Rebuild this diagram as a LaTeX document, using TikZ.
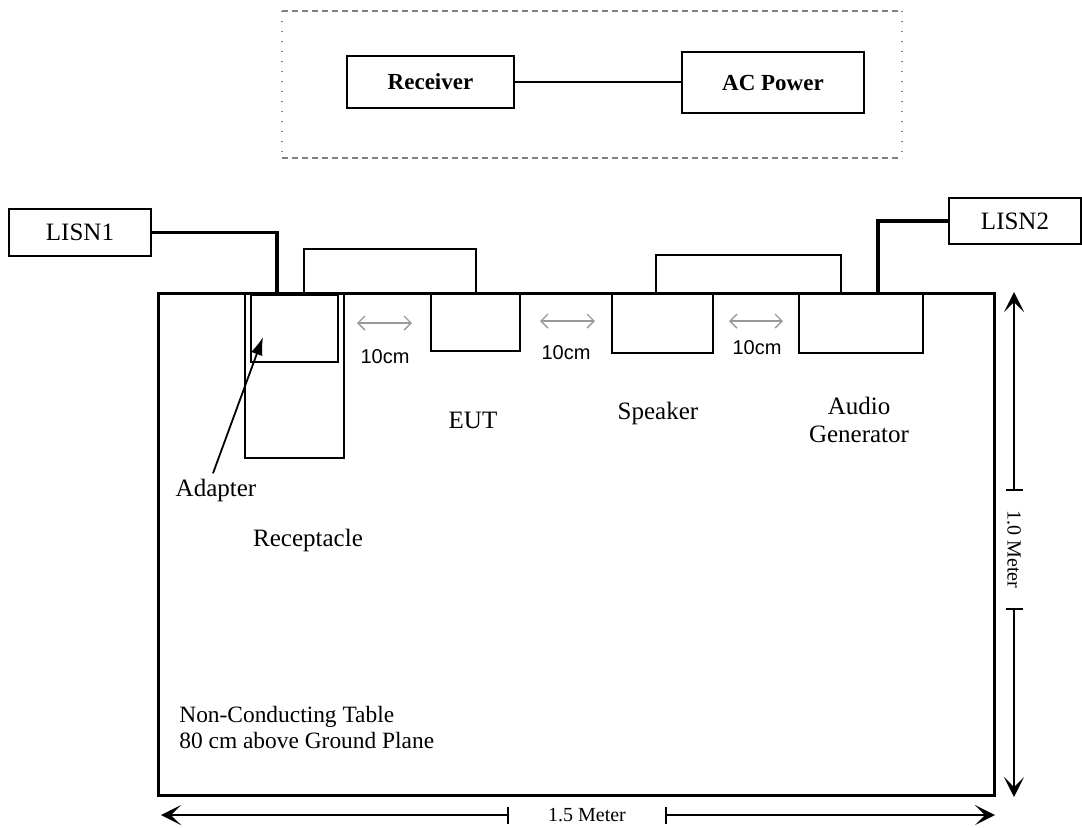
\documentclass[tikz,border=0pt]{standalone}
\usepackage{fontspec}
\setmainfont{Liberation Serif}
\newfontfamily\arialfont{Liberation Sans}
\usetikzlibrary{arrows.meta, positioning, calc}

\begin{document}
\begin{tikzpicture}[x=0.5pt, y=-0.5pt,
		box/.style={draw, line width=1pt, inner sep=0pt, font=\fontsize{12.5}{14}\selectfont},
		boldbox/.style={box, font=\fontsize{11.5}{13}\selectfont\bfseries},
		lbl/.style={inner sep=0pt, align=center, font=\fontsize{12.5}{14}\selectfont},
		gaplbl/.style={inner sep=0pt, font=\arialfont\fontsize{10}{12}\selectfont},
		dimlbl/.style={inner sep=0pt, font=\fontsize{10}{12}\selectfont},
		wire/.style={line width=1pt},
		thickwire/.style={line width=1.8pt},
		gap/.style={gray!80, line width=0.7pt, {Straight Barb[length=3.5pt,width=7pt]}-{Straight Barb[length=3.5pt,width=7pt]}},
		ptr/.style={line width=0.9pt, -{Latex[length=9pt,width=6pt]}},
		dimline/.style={line width=0.8pt, {Bar[width=8.5pt]}-{Stealth[length=10pt,width=10pt,inset=5pt]}},
		frame/.style={gray, line width=0.6pt, dash pattern=on 3pt off 2pt},
		framedot/.style={gray, line width=0.6pt, dash pattern=on 0.6pt off 4.4pt}
	]
	\useasboundingbox (0,0) rectangle (1082,827);

	% Receiver set-up
	\draw[frame] (282,11) -- (902,11) (282,158) -- (902,158);
	\draw[framedot] (282,11) -- (282,158) (902,11) -- (902,158);
	\node[boldbox, minimum width=83.5pt, minimum height=26pt] (rcv) at (430.5,82) {Receiver};
	\node[boldbox, minimum width=91pt, minimum height=30.5pt] (acp) at (773,82.5) {AC Power};
	\draw[wire] (rcv.east) -- (rcv.east -| acp.west);

	% Table
	\node[draw, line width=1.5pt, inner sep=0pt, minimum width=418pt, minimum height=251pt] (table) at (576,544) {};

	% LISNs
	\node[box, minimum width=71pt, minimum height=23.5pt] (lisn1) at (80,232.5) {LISN1};
	\node[box, minimum width=66pt, minimum height=23pt] (lisn2) at (1015,221) {LISN2};

	% Equipment
	\node[box, minimum width=49.5pt, minimum height=82pt] (rcpt) at (294.5,376) {};
	\node[box, minimum width=43.5pt, minimum height=33.5pt] (adapter) at (294.5,328.5) {};
	\node[box, minimum width=44.5pt, minimum height=28.5pt] (eut) at (475.5,322.5) {};
	\node[box, minimum width=50.5pt, minimum height=29.5pt] (spk) at (662.5,323.5) {};
	\node[box, minimum width=62pt, minimum height=29.5pt] (agen) at (861,323.5) {};

	% Labels
	\node[lbl] (eutlbl) at (473,420) {EUT};
	\node[lbl] (spklbl) at (658,413) {Speaker};
	\node[lbl] (agenlbl) at (859,420) {Audio\\Generator};
	\node[lbl] (adlbl) at (216,490) {Adapter};
	\node[lbl] (rcptlbl) at (308,540) {Receptacle};
	\node[lbl, align=left, anchor=west, font=\fontsize{11.7}{13}\selectfont] (note) at (179,727) {Non-Conducting Table\\80 cm above Ground Plane};

	% Cables
	\draw[thickwire] (lisn1.east) -| ([shift={(-17.5,0)}]adapter.north);
	\draw[thickwire] (lisn2.west) -| ([shift={(17,0)}]agen.north);
	\draw[wire] ([shift={(9.5,0)}]adapter.north) -- ++(0,-45) -| (eut.north);
	\draw[wire] ([shift={(-6.5,0)}]spk.north) -- ++(0,-38) -| ([shift={(-20,0)}]agen.north);
	\draw[ptr] ([shift={(-3,-5)}]adlbl.north) -- ([shift={(-31.5,8.5)}]adapter.center);

	% 10cm spacings
	\node[gaplbl] (g1) at (385,357) {10cm};
	\node[gaplbl] (g2) at (566,353) {10cm};
	\node[gaplbl] (g3) at (757,348) {10cm};
	\draw[gap] ([shift={(-28,-34)}]g1.center) -- ([shift={(27,-34)}]g1.center);
	\draw[gap] ([shift={(-26,-32)}]g2.center) -- ([shift={(29,-32)}]g2.center);
	\draw[gap] ([shift={(-28,-27)}]g3.center) -- ([shift={(26,-27)}]g3.center);

	% Dimensions
	\node[dimlbl, minimum width=78pt] (dimw) at (587,815) {1.5 Meter};
	\node[dimlbl, rotate=-90, minimum width=58.5pt] (dimh) at (1014,549.5) {1.0 Meter};
	\coordinate (wl) at (161,815);
	\coordinate (wr) at (995,815);
	\coordinate (ht) at (1014,292);
	\coordinate (hb) at (1014,797);
	\draw[dimline] (dimw.west) -- (wl);
	\draw[dimline] (dimw.east) -- (wr);
	\draw[dimline] (dimh.west) -- (ht);
	\draw[dimline] (dimh.east) -- (hb);
\end{tikzpicture}
\end{document}
